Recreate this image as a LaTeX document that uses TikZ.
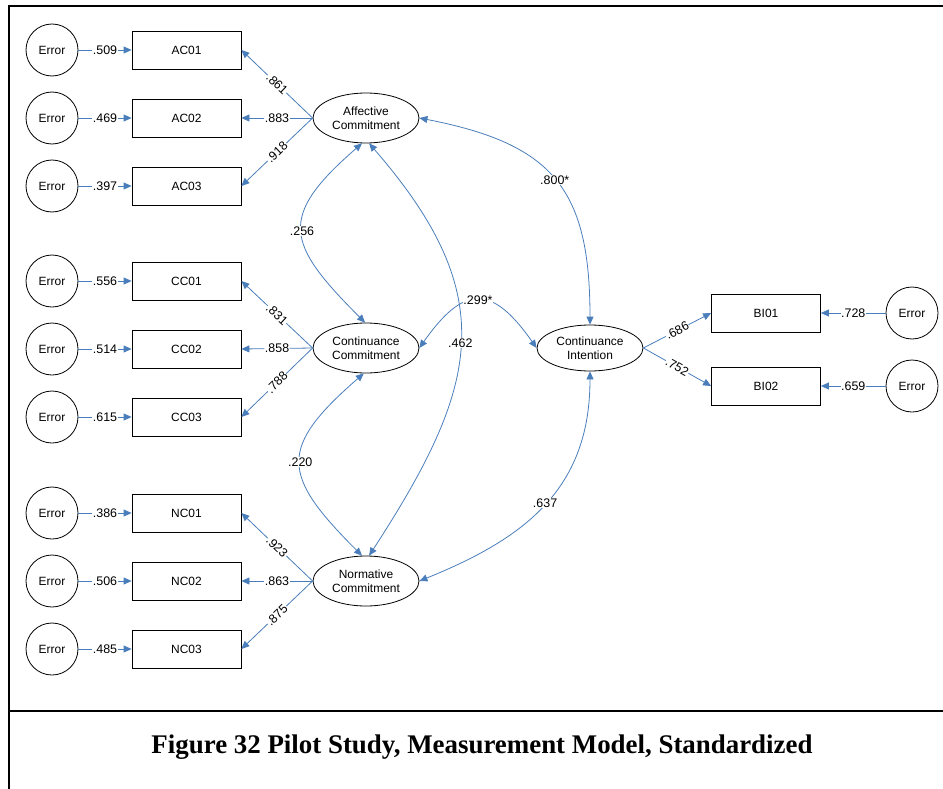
\documentclass[tikz,border=0pt]{standalone}
\usepackage{fontspec}
\setmainfont{Liberation Sans}
\newfontfamily\capfont{Liberation Serif}
\usetikzlibrary{shapes.geometric,arrows.meta,calc}
\definecolor{pathblue}{HTML}{4A7EBB}

\tikzset{
  lbl/.style={font=\fontsize{12}{14}\selectfont},
  err/.style={circle, draw, line width=0.8bp, minimum size=52bp, inner sep=0pt, lbl},
  obs/.style={rectangle, draw, line width=0.8bp, minimum width=109bp, minimum height=38bp, inner sep=0pt, lbl},
  lat/.style={ellipse, draw, line width=0.8bp, minimum width=106bp, minimum height=50bp, inner sep=0pt, align=center, lbl},
  tip/.tip={Triangle[length=8bp,width=7bp]},
  regpath/.style={draw=pathblue, line width=0.8bp, -tip, color=pathblue},
  covpath/.style={draw=pathblue, line width=0.8bp, tip-tip, color=pathblue},
  coef/.style={fill=white, inner sep=0.6bp, text=black, font=\fontsize{12.5}{14}\selectfont},
  framerule/.style={line width=2bp}
}

\begin{document}
\begin{tikzpicture}[x=1bp,y=1bp]
\useasboundingbox (0,0) rectangle (943,-789);

% outer frame and caption divider
\draw[framerule] (9,-789) -- (9,-6) -- (943,-6);
\draw[framerule] (9,-711) -- (943,-711);

% latent constructs
\node[lat] (AC) at (366,-118) {Affective\\Commitment};
\node[lat] (CC) at (366,-348) {Continuance\\Commitment};
\node[lat] (NC) at (366,-581) {Normative\\Commitment};
\node[lat, minimum height=46bp] (CI) at (590,-348) {Continuance\\Intention};

% indicators of the three commitment constructs with their error terms
\foreach \n/\y/\e/\l/\f in {
  AC01/50/.509/.861/AC, AC02/118/.469/.883/AC, AC03/186/.397/.918/AC,
  CC01/281/.556/.831/CC, CC02/349/.514/.858/CC, CC03/417/.615/.788/CC,
  NC01/513/.386/.923/NC, NC02/581/.506/.863/NC, NC03/649/.485/.875/NC}{
  \node[obs] (\n) at (186.5,-\y) {\n};
  \node[err] (E\n) at (52,-\y) {Error};
  \draw[regpath] (E\n) -- node[coef] {\e} (\n);
  \draw[regpath] (\f.west) -- node[coef, sloped] {\l} (\n.east);
}

% indicators of continuance intention
\foreach \n/\y/\e/\l in {BI01/313/.728/.686, BI02/386/.659/.752}{
  \node[obs] (\n) at (766,-\y) {\n};
  \node[err] (E\n) at (912,-\y) {Error};
  \draw[regpath] (E\n) -- node[coef] {\e} (\n);
  \draw[regpath] (CI.east) -- node[coef, sloped] {\l} (\n.west);
}

% correlations between constructs
\draw[covpath] (AC.east) to[out=-11, in=90, looseness=1.3]
  node[coef, pos=0.5] {.800*} (CI.north);
\draw[covpath] (AC.261) to[out=221, in=135, looseness=1.6]
  node[coef, pos=0.5] {.256} (CC.92);
\draw[covpath] (CC.265) to[out=221, in=135, looseness=1.6]
  node[coef, pos=0.5] {.220} (NC.99);
\draw[covpath] (AC.277) to[out=-49, in=57, looseness=1.26]
  node[coef, pos=0.5] {.462} (NC.83);
\draw[covpath] (CC.east) to[out=55, in=125, looseness=1.7]
  node[coef, pos=0.5] {.299*} (CI.west);
\draw[covpath] (CI.south) to[out=270, in=22, looseness=1.1]
  node[coef, pos=0.5] {.637} (NC.east);

% caption
\node[font=\capfont\bfseries\fontsize{27}{30}\selectfont, anchor=base] (cap) at (482,-753)
  {Figure 32 Pilot Study, Measurement Model, Standardized};
\end{tikzpicture}
\end{document}
